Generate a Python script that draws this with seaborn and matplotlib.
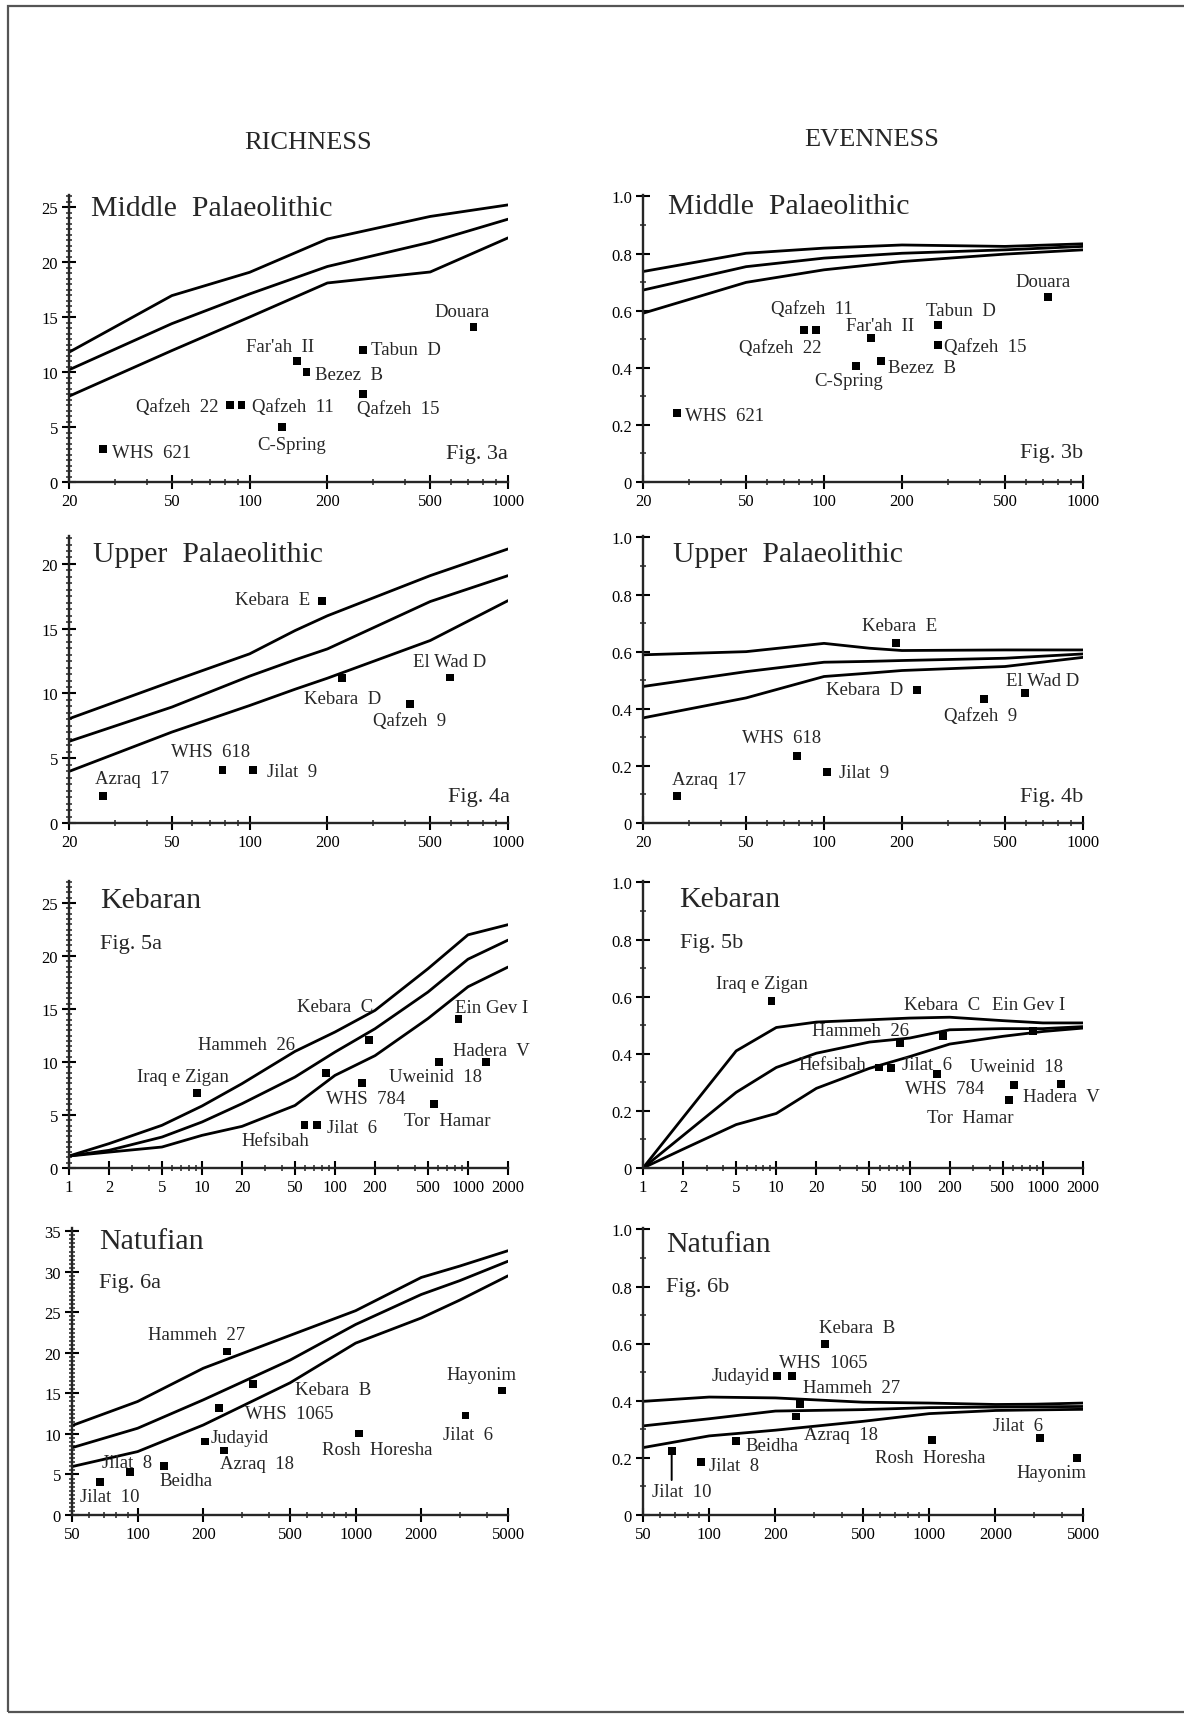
import numpy as np
import matplotlib
matplotlib.use("Agg")
import matplotlib.pyplot as plt
import matplotlib.ticker as mticker
from matplotlib.patches import Rectangle
import seaborn as sns

# ---- values ----
# Fig 3 - Middle Palaeolithic
mp_curve_n = [20, 50, 100, 200, 500, 1000]
mp_rich_hi = [11.8, 16.95, 19.07, 22.1, 24.15, 25.2]
mp_rich_mid = [10.2, 14.4, 17.1, 19.6, 21.8, 23.9]
mp_rich_lo = [7.8, 11.95, 15.0, 18.1, 19.1, 22.2]
mp_even_hi = [0.737, 0.801, 0.819, 0.830, 0.825, 0.834]
mp_even_mid = [0.672, 0.754, 0.784, 0.801, 0.813, 0.825]
mp_even_lo = [0.591, 0.699, 0.743, 0.772, 0.798, 0.813]
mp_sites = ["WHS 621", "Qafzeh 22", "Qafzeh 11", "C-Spring", "Far'ah II",
            "Bezez B", "Tabun D", "Qafzeh 15", "Douara"]
mp_n = [27, 84, 93, 133, 152, 166, 275, 275, 735]
mp_richness = [3, 7, 7, 5, 11, 10, 12, 8, 14.1]
mp_evenness = [0.242, 0.532, 0.532, 0.406, 0.503, 0.423, 0.55, 0.48, 0.648]

# Fig 4 - Upper Palaeolithic
up_curve_n = [20, 50, 100, 150, 200, 500, 1000]
up_rich_hi = [8.05, 10.93, 13.06, 14.86, 16.0, 19.1, 21.16]
up_rich_mid = [6.3, 8.95, 11.34, 12.6, 13.44, 17.1, 19.1]
up_rich_lo = [3.98, 7.02, 9.07, 10.33, 11.18, 14.09, 17.17]
up_even_hi = [0.589, 0.600, 0.629, 0.612, 0.604, 0.606, 0.606]
up_even_mid = [0.478, 0.530, 0.563, 0.566, 0.569, 0.577, 0.592]
up_even_lo = [0.368, 0.438, 0.513, 0.525, 0.534, 0.548, 0.580]
up_sites = ["Azraq 17", "WHS 618", "Jilat 9", "Kebara E", "Kebara D",
            "Qafzeh 9", "El Wad D"]
up_n = [27, 78.5, 103, 190, 228, 416, 597]
up_richness = [2.08, 4.11, 4.11, 17.17, 11.18, 9.2, 11.23]
up_evenness = [0.094, 0.234, 0.178, 0.629, 0.466, 0.435, 0.455]

# Fig 5 - Kebaran
kb_curve_n = [1, 2, 5, 10, 20, 50, 100, 200, 500, 1000, 2000]
kb_rich_hi = [1.13, 2.3, 4.03, 5.85, 7.96, 11.0, 12.83, 14.87, 18.8, 22.0, 22.96]
kb_rich_mid = [1.13, 1.67, 2.92, 4.34, 6.07, 8.58, 10.94, 13.14, 16.6, 19.7, 21.5]
kb_rich_lo = [1.13, 1.5, 1.98, 3.08, 3.93, 5.9, 8.74, 10.6, 14.1, 17.1, 18.96]
kb_even_hi = [0, 0.177, 0.41, 0.492, 0.511, 0.519, 0.525, 0.528, 0.516, 0.508, 0.508]
kb_even_mid = [0, 0.114, 0.265, 0.352, 0.402, 0.441, 0.455, 0.484, 0.488, 0.488, 0.495]
kb_even_lo = [0, 0.066, 0.152, 0.191, 0.279, 0.349, 0.39, 0.434, 0.461, 0.478, 0.49]
kb_sites = ["Iraq e Zigan", "Hefsibah", "Jilat 6", "Hammeh 26", "WHS 784",
            "Kebara C", "Tor Hamar", "Uweinid 18", "Ein Gev I", "Hadera V"]
kb_n = [9.2, 59, 73, 85, 160, 179, 555, 610, 848, 1370]
kb_richness = [7.1, 4.03, 4.03, 8.93, 8.02, 12.04, 6.04, 10.0, 14.03, 10.0]
kb_evenness = [0.584, 0.352, 0.349, 0.437, 0.329, 0.461, 0.238, 0.291, 0.481, 0.293]

# Fig 6 - Natufian
nt_curve_n = [50, 100, 200, 500, 1000, 2000, 3000, 5000]
nt_rich_hi = [11.03, 14.0, 18.1, 22.15, 25.2, 29.3, 30.7, 32.6]
nt_rich_mid = [8.3, 10.7, 14.2, 19.1, 23.5, 27.2, 28.9, 31.3]
nt_rich_lo = [5.97, 7.82, 11.1, 16.3, 21.2, 24.3, 26.5, 29.5]
nt_even_hi = [0.398, 0.413, 0.41, 0.395, 0.392, 0.387, 0.388, 0.392]
nt_even_mid = [0.312, 0.337, 0.364, 0.369, 0.376, 0.378, 0.379, 0.380]
nt_even_lo = [0.236, 0.277, 0.297, 0.328, 0.355, 0.366, 0.368, 0.370]
nt_sites = ["Jilat 10", "Jilat 8", "Beidha", "Judayid", "WHS 1065", "Azraq 18",
            "Hammeh 27", "Kebara B", "Rosh Horesha", "Jilat 6", "Hayonim"]
nt_n = [67.5, 92, 132, 203, 237, 248, 258, 337, 1034, 3190, 4700]
nt_richness = [4.12, 5.27, 6.05, 9.06, 13.17, 7.95, 20.17, 16.18, 10.05, 12.27, 15.36]
nt_evenness = [0.224, 0.186, 0.259, 0.488, 0.488, 0.345, 0.39, 0.599, 0.262, 0.27, 0.2]

# ---- label placement (pixels from the marker: dx, dy, alignment) ----
off_3a = {"WHS 621": (9, -3, "left"), "Qafzeh 22": (-12, -1, "right"),
          "Qafzeh 11": (11, -1, "left"), "C-Spring": (10, -17, "center"),
          "Far'ah II": (-17, 15, "center"), "Bezez B": (9, -2, "left"),
          "Tabun D": (8, 1, "left"), "Qafzeh 15": (35, -14, "center"),
          "Douara": (-11, 15, "center")}
off_3b = {"WHS 621": (8, -3, "left"), "Qafzeh 22": (-24, -17, "center"),
          "Qafzeh 11": (-4, 22, "center"), "C-Spring": (-7, -14, "center"),
          "Far'ah II": (9, 13, "center"), "Bezez B": (7, -6, "left"),
          "Tabun D": (23, 14, "center"), "Qafzeh 15": (6, -2, "left"),
          "Douara": (-5, 15, "center")}
off_4a = {"Azraq 17": (29, 18, "center"), "WHS 618": (-12, 18, "center"),
          "Jilat 9": (14, -2, "left"), "Kebara E": (-11, 1, "right"),
          "Kebara D": (1, -20, "center"), "Qafzeh 9": (0, -17, "center"),
          "El Wad D": (0, 16, "center")}
off_4b = {"Azraq 17": (32, 17, "center"), "WHS 618": (-15, 19, "center"),
          "Jilat 9": (12, 0, "left"), "Kebara E": (3, 18, "center"),
          "Kebara D": (-13, 0, "right"), "Qafzeh 9": (-4, -17, "center"),
          "El Wad D": (18, 13, "center")}
off_5a = {"Iraq e Zigan": (-14, 16, "center"), "Hefsibah": (-29, -15, "center"),
          "Jilat 6": (10, -2, "left"), "Hammeh 26": (-79, 29, "center"),
          "WHS 784": (4, -15, "center"), "Kebara C": (-33, 34, "center"),
          "Tor Hamar": (13, -17, "center"), "Uweinid 18": (-4, -14, "center"),
          "Ein Gev I": (33, 12, "center"), "Hadera V": (5, 12, "center")}
off_5b = {"Iraq e Zigan": (-10, 18, "center"), "Hefsibah": (-13, 3, "right"),
          "Jilat 6": (11, 4, "left"), "Hammeh 26": (-40, 13, "center"),
          "WHS 784": (8, -14, "center"), "Kebara C": (-1, 32, "center"),
          "Tor Hamar": (-39, -17, "center"), "Uweinid 18": (2, 18, "center"),
          "Ein Gev I": (-5, 26, "center"), "Hadera V": (0, -12, "center")}
off_6a = {"Jilat 10": (9, -15, "center"), "Jilat 8": (-3, 10, "center"),
          "Beidha": (22, -15, "center"), "Judayid": (6, 4, "left"),
          "WHS 1065": (70, -5, "center"), "Azraq 18": (33, -13, "center"),
          "Hammeh 27": (-31, 17, "center"), "Kebara B": (80, -6, "center"),
          "Rosh Horesha": (18, -16, "center"), "Jilat 6": (3, -19, "center"),
          "Hayonim": (-21, 16, "center")}
off_6b = {"Jilat 10": (10, -40, "center"), "Jilat 8": (8, -4, "left"),
          "Beidha": (10, -4, "left"), "Judayid": (-7, 0, "right"),
          "WHS 1065": (32, 13, "center"), "Azraq 18": (45, -18, "center"),
          "Hammeh 27": (52, 16, "center"), "Kebara B": (32, 16, "center"),
          "Rosh Horesha": (-2, -17, "center"), "Jilat 6": (-22, 12, "center"),
          "Hayonim": (-26, -15, "center")}

sns.set_style("ticks")
plt.rcParams["font.family"] = ["Liberation Serif", "DejaVu Serif"]

W, H = 1184, 1715
fig = plt.figure(figsize=(W / 100, H / 100), dpi=100)


def box(left, right, top, bottom):
    return [left / W, 1 - bottom / H, (right - left) / W, (bottom - top) / H]


def disp(name):
    parts = name.split()
    return "  ".join(parts) if len(parts) == 2 else name


def panel(rect, curve_n, curves, site_n, site_v, sites, offsets, title, title_pos,
          fig_label, fig_pos, xlim, xticks, ylim, even):
    ax = fig.add_axes(rect)
    ax.set_xscale("log")
    for c in curves:
        sns.lineplot(x=curve_n, y=c, ax=ax, color="black", lw=2.0,
                     sort=False, estimator=None)
    sns.scatterplot(x=site_n, y=site_v, ax=ax, marker="s", s=32, color="black",
                    edgecolor="none", linewidth=0, zorder=3)
    ax.set_xlim(*xlim)
    ax.set_ylim(*ylim)
    ax.set_xticks(xticks)
    ax.set_xticklabels([str(t) for t in xticks])
    ax.xaxis.set_minor_locator(mticker.LogLocator(base=10, subs=np.arange(2, 10)))
    ax.xaxis.set_minor_formatter(mticker.NullFormatter())
    if even:
        ax.set_yticks([0, 0.2, 0.4, 0.6, 0.8, 1.0])
        ax.set_yticklabels(["0", "0.2", "0.4", "0.6", "0.8", "1.0"])
        ax.yaxis.set_minor_locator(mticker.MultipleLocator(0.1))
    else:
        ax.yaxis.set_major_locator(mticker.MultipleLocator(5))
        ax.yaxis.set_major_formatter(mticker.FormatStrFormatter("%d"))
        ax.yaxis.set_minor_locator(mticker.MultipleLocator(0.5))
    sns.despine(ax=ax)
    for s in ("left", "bottom"):
        ax.spines[s].set_linewidth(1.7)
    ax.tick_params(which="major", direction="inout", length=10, width=1.5,
                   labelsize=12, pad=3, colors="black")
    ax.tick_params(which="minor", direction="inout", length=5, width=1.1)
    ax.set_xlabel("")
    ax.set_ylabel("")
    for name, x, y in zip(sites, site_n, site_v):
        dx, dy, ha = offsets[name]
        ax.annotate(disp(name), (x, y), xytext=(dx, dy), textcoords="offset pixels",
                    ha=ha, va="center", fontsize=13.5)
    ax.text(title_pos[0], title_pos[1], title, transform=ax.transAxes,
            ha="left", va="center", fontsize=21.5)
    ax.text(fig_pos[0], fig_pos[1], fig_label, transform=ax.transAxes,
            ha=fig_pos[2], va="center", fontsize=16)
    return ax


L, R = (69, 508), (643, 1083)
rows = [(196, 483), (537, 824), (882, 1169), (1229, 1516)]
t20 = [20, 50, 100, 200, 500, 1000]
t1 = [1, 2, 5, 10, 20, 50, 100, 200, 500, 1000, 2000]
t50 = [50, 100, 200, 500, 1000, 2000, 5000]

panel(box(*L, *rows[0]), mp_curve_n, [mp_rich_hi, mp_rich_mid, mp_rich_lo],
      mp_n, mp_richness, mp_sites, off_3a, "Middle  Palaeolithic", (0.051, 0.954),
      "Fig. 3a", (1.0, 0.099, "right"), (20, 1000), t20, (0, 26.1), False)
panel(box(*R, *rows[0]), mp_curve_n, [mp_even_hi, mp_even_mid, mp_even_lo],
      mp_n, mp_evenness, mp_sites, off_3b, "Middle  Palaeolithic", (0.057, 0.963),
      "Fig. 3b", (1.0, 0.102, "right"), (20, 1000), t20, (0, 1.005), True)
panel(box(*L, *rows[1]), up_curve_n, [up_rich_hi, up_rich_mid, up_rich_lo],
      up_n, up_richness, up_sites, off_4a, "Upper  Palaeolithic", (0.055, 0.937),
      "Fig. 4a", (1.004, 0.094, "right"), (20, 1000), t20, (0, 22.16), False)
panel(box(*R, *rows[1]), up_curve_n, [up_even_hi, up_even_mid, up_even_lo],
      up_n, up_evenness, up_sites, off_4b, "Upper  Palaeolithic", (0.068, 0.939),
      "Fig. 4b", (1.0, 0.094, "right"), (20, 1000), t20, (0, 1.005), True)
panel(box(*L, *rows[2]), kb_curve_n, [kb_rich_hi, kb_rich_mid, kb_rich_lo],
      kb_n, kb_richness, kb_sites, off_5a, "Kebaran", (0.07, 0.934),
      "Fig. 5a", (0.07, 0.783, "left"), (1, 2000), t1, (0, 27.08), False)
panel(box(*R, *rows[2]), kb_curve_n, [kb_even_hi, kb_even_mid, kb_even_lo],
      kb_n, kb_evenness, kb_sites, off_5b, "Kebaran", (0.083, 0.939),
      "Fig. 5b", (0.083, 0.785, "left"), (1, 2000), t1, (0, 1.005), True)
panel(box(72, 508, *rows[3]), nt_curve_n, [nt_rich_hi, nt_rich_mid, nt_rich_lo],
      nt_n, nt_richness, nt_sites, off_6a, "Natufian", (0.063, 0.955),
      "Fig. 6a", (0.063, 0.811, "left"), (50, 5000), t50, (0, 35.4), False)
ax6b = panel(box(*R, *rows[3]), nt_curve_n, [nt_even_hi, nt_even_mid, nt_even_lo],
             nt_n, nt_evenness, nt_sites, off_6b, "Natufian", (0.053, 0.945),
             "Fig. 6b", (0.053, 0.795, "left"), (50, 5000), t50, (0, 1.005), True)
# leader line from Jilat 10 down towards its label
j10 = nt_sites.index("Jilat 10")
ax6b.annotate("", (nt_n[j10], nt_evenness[j10]), xytext=(0, -29),
              textcoords="offset pixels",
              arrowprops=dict(arrowstyle="-", lw=1.4, color="black",
                              shrinkA=0, shrinkB=0))

fig.text(308 / W, 1 - 143 / H, "RICHNESS", ha="center", va="center", fontsize=19)
fig.text(872 / W, 1 - 140 / H, "EVENNESS", ha="center", va="center", fontsize=19)

# page frame of the scanned sheet
fig.add_artist(Rectangle((8 / W, 1 - 1713 / H), 1.2, (1713 - 7) / H,
                         transform=fig.transFigure, fill=False, lw=1.6,
                         edgecolor="#555555"))

fig.savefig("out.png", dpi=100, facecolor="white")
